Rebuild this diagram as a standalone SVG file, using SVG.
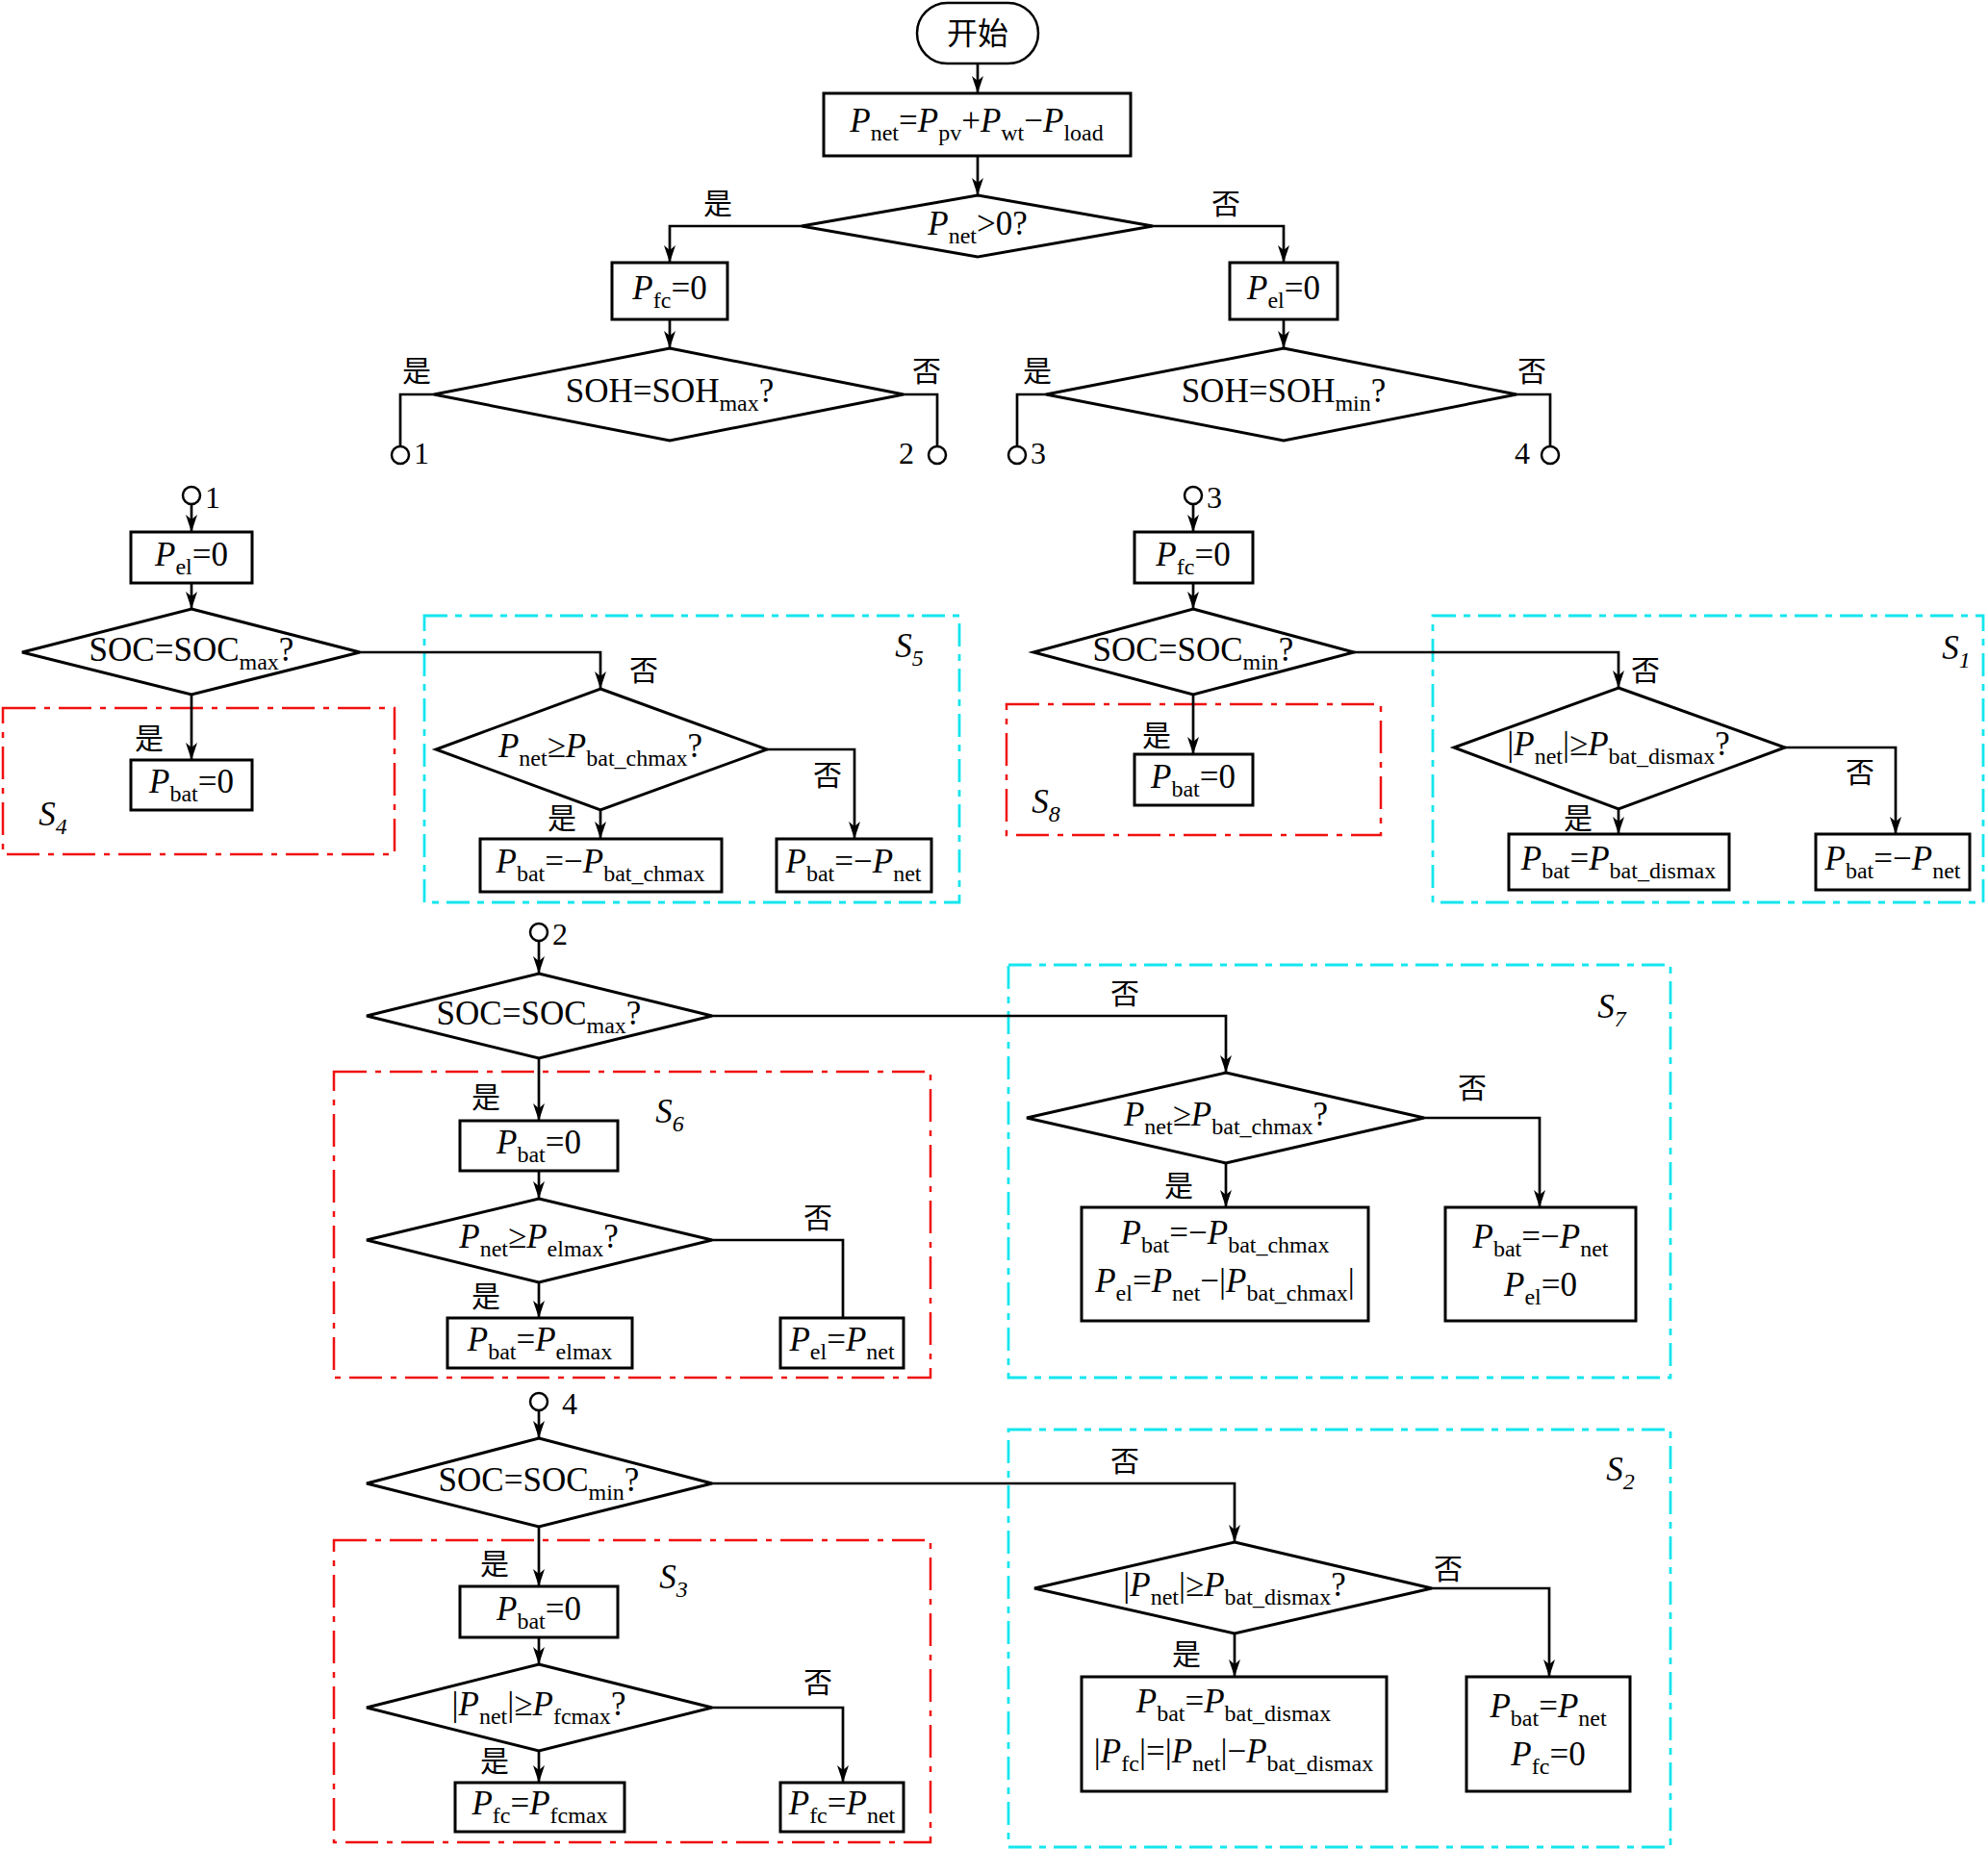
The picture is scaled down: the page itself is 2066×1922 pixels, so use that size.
<svg xmlns="http://www.w3.org/2000/svg" width="2066" height="1922" viewBox="0 0 2066 1922">
<defs>
<marker id="ah" markerUnits="userSpaceOnUse" markerWidth="18" markerHeight="12" viewBox="0 0 18 12" refX="18" refY="6" orient="auto">
<path d="M0,0 L18,6 L0,12 L5,6 z" fill="#000"/>
</marker>
<style>
.box{fill:#fff;stroke:#000;stroke-width:3}
.dia{fill:#fff;stroke:#000;stroke-width:3;stroke-linejoin:miter}
.ln{fill:none;stroke:#000;stroke-width:2.7}
.arr{marker-end:url(#ah)}
.cir{fill:#fff;stroke:#000;stroke-width:2.5}
.t{font-family:"Liberation Serif","Times New Roman",serif;font-size:35px;text-anchor:middle;fill:#000}
.tl{font-family:"Liberation Serif","Times New Roman",serif;font-size:32px;fill:#000}
.cn{font-family:"Noto Sans CJK SC","Noto Sans CJK JP",sans-serif;font-size:30px;text-anchor:middle;fill:#000}
.i{font-style:italic}
.s{font-size:24px;font-style:normal}
.si{font-size:24px;font-style:italic}
.red{fill:none;stroke:#f01010;stroke-width:2.5;stroke-dasharray:34 9 6 9}
.cyan{fill:none;stroke:#14e6ee;stroke-width:2.8;stroke-dasharray:24 8 7 8}
</style>
</defs>

<!-- group frames -->
<g id="frames">
<rect class="red" x="3" y="736" width="407" height="152"/>
<rect class="cyan" x="441" y="640" width="556" height="298"/>
<rect class="red" x="1046" y="732" width="389" height="136"/>
<rect class="cyan" x="1489" y="640" width="572" height="298"/>
<rect class="red" x="347" y="1114" width="620" height="318"/>
<rect class="cyan" x="1048" y="1003" width="688" height="429"/>
<rect class="red" x="347" y="1601" width="620" height="314"/>
<rect class="cyan" x="1048" y="1486" width="688" height="434"/>
<text class="t" x="55" y="858"><tspan class="i">S</tspan><tspan class="si" dy="9">4</tspan></text>
<text class="t" x="945" y="683"><tspan class="i">S</tspan><tspan class="si" dy="9">5</tspan></text>
<text class="t" x="1087" y="845"><tspan class="i">S</tspan><tspan class="si" dy="9">8</tspan></text>
<text class="t" x="2033" y="685"><tspan class="i">S</tspan><tspan class="si" dy="9">1</tspan></text>
<text class="t" x="696" y="1167"><tspan class="i">S</tspan><tspan class="si" dy="9">6</tspan></text>
<text class="t" x="1675" y="1058"><tspan class="i">S</tspan><tspan class="si" dy="9">7</tspan></text>
<text class="t" x="700" y="1651"><tspan class="i">S</tspan><tspan class="si" dy="9">3</tspan></text>
<text class="t" x="1684" y="1539"><tspan class="i">S</tspan><tspan class="si" dy="9">2</tspan></text>
</g>

<!-- connectors -->
<g id="connectors">
<path class="ln arr" d="M1016,66 V97"/>
<path class="ln arr" d="M1016,162 V203"/>
<path class="ln arr" d="M833,235 H696 V273"/>
<path class="ln arr" d="M1198,235 H1334 V273"/>
<path class="ln arr" d="M696,332 V362"/>
<path class="ln arr" d="M1334,332 V362"/>
<path class="ln" d="M451,410 H416 V464"/>
<path class="ln" d="M939,410 H974 V464"/>
<path class="ln" d="M1087,410 H1057 V464"/>
<path class="ln" d="M1576,410 H1611 V464"/>

<path class="ln arr" d="M199,524 V553"/>
<path class="ln arr" d="M199,606 V633"/>
<path class="ln arr" d="M199,722 V790"/>
<path class="ln arr" d="M374,678 H624 V716"/>
<path class="ln arr" d="M624,842 V872"/>
<path class="ln arr" d="M797,779 H888 V872"/>

<path class="ln arr" d="M1240,524 V553"/>
<path class="ln arr" d="M1240,606 V633"/>
<path class="ln arr" d="M1240,722 V784"/>
<path class="ln arr" d="M1407,678 H1682 V715"/>
<path class="ln arr" d="M1682,841 V867"/>
<path class="ln arr" d="M1855,777 H1970 V867"/>

<path class="ln arr" d="M560,978 V1012"/>
<path class="ln arr" d="M740,1056 H1274 V1115"/>
<path class="ln arr" d="M560,1100 V1165"/>
<path class="ln arr" d="M560,1217 V1246"/>
<path class="ln arr" d="M560,1333 V1370"/>
<path class="ln" d="M740,1289 H876 V1370"/>
<path class="ln arr" d="M1274,1209 V1255"/>
<path class="ln arr" d="M1480,1162 H1600 V1255"/>

<path class="ln arr" d="M560,1466 V1495"/>
<path class="ln arr" d="M740,1542 H1283 V1603"/>
<path class="ln arr" d="M560,1587 V1649"/>
<path class="ln arr" d="M560,1702 V1730"/>
<path class="ln arr" d="M560,1820 V1853"/>
<path class="ln arr" d="M740,1775 H876 V1853"/>
<path class="ln arr" d="M1283,1698 V1743"/>
<path class="ln arr" d="M1488,1651 H1610 V1743"/>

<text class="cn" x="746" y="222">是</text>
<text class="cn" x="1274" y="222">否</text>
<text class="cn" x="433" y="396">是</text>
<text class="cn" x="963" y="396">否</text>
<text class="cn" x="1078" y="396">是</text>
<text class="cn" x="1592" y="396">否</text>
<text class="cn" x="669" y="707">否</text>
<text class="cn" x="155" y="778">是</text>
<text class="cn" x="860" y="816">否</text>
<text class="cn" x="584" y="861">是</text>
<text class="cn" x="1710" y="707">否</text>
<text class="cn" x="1202" y="775">是</text>
<text class="cn" x="1933" y="813">否</text>
<text class="cn" x="1640" y="861">是</text>
<text class="cn" x="1169" y="1043">否</text>
<text class="cn" x="505" y="1151">是</text>
<text class="cn" x="1530" y="1141">否</text>
<text class="cn" x="1225" y="1243">是</text>
<text class="cn" x="850" y="1276">否</text>
<text class="cn" x="505" y="1358">是</text>
<text class="cn" x="1169" y="1529">否</text>
<text class="cn" x="514" y="1636">是</text>
<text class="cn" x="1505" y="1641">否</text>
<text class="cn" x="1233" y="1730">是</text>
<text class="cn" x="850" y="1759">否</text>
<text class="cn" x="514" y="1841">是</text>
</g>

<!-- connector points -->
<g id="cp1a"><circle class="cir" cx="416" cy="473" r="9"/><text class="tl" x="430" y="482">1</text></g>
<g id="cp2a"><circle class="cir" cx="974" cy="473" r="9"/><text class="tl" x="934" y="482">2</text></g>
<g id="cp3a"><circle class="cir" cx="1057" cy="473" r="9"/><text class="tl" x="1071" y="482">3</text></g>
<g id="cp4a"><circle class="cir" cx="1611" cy="473" r="9"/><text class="tl" x="1574" y="482">4</text></g>
<g id="cp1b"><circle class="cir" cx="199" cy="515" r="9"/><text class="tl" x="213" y="528">1</text></g>
<g id="cp3b"><circle class="cir" cx="1240" cy="515" r="9"/><text class="tl" x="1254" y="528">3</text></g>
<g id="cp2b"><circle class="cir" cx="560" cy="969" r="9"/><text class="tl" x="574" y="982">2</text></g>
<g id="cp4b"><circle class="cir" cx="560" cy="1457" r="9"/><text class="tl" x="584" y="1470">4</text></g>

<!-- top section -->
<g id="start">
<rect x="953" y="3" width="126" height="63" rx="31.5" fill="#fff" stroke="#000" stroke-width="2.5"/>
<text class="cn" x="1016" y="46" style="font-size:32px">开始</text>
</g>
<g id="pnet">
<rect class="box" x="856" y="97" width="319" height="65"/>
<text class="t" x="1015" y="137"><tspan class="i">P</tspan><tspan class="s" dy="9">net</tspan><tspan dy="-9">=</tspan><tspan class="i">P</tspan><tspan class="s" dy="9">pv</tspan><tspan dy="-9">+</tspan><tspan class="i">P</tspan><tspan class="s" dy="9">wt</tspan><tspan dy="-9">−</tspan><tspan class="i">P</tspan><tspan class="s" dy="9">load</tspan></text>
</g>
<g id="d_pnet">
<polygon class="dia" points="1016,203 1198,235 1016,267 833,235"/>
<text class="t" x="1016" y="244"><tspan class="i">P</tspan><tspan class="s" dy="9">net</tspan><tspan dy="-9">&gt;0?</tspan></text>
</g>
<g id="pfc0a">
<rect class="box" x="636" y="273" width="120" height="59"/>
<text class="t" x="696" y="311"><tspan class="i">P</tspan><tspan class="s" dy="9">fc</tspan><tspan dy="-9">=0</tspan></text>
</g>
<g id="pel0a">
<rect class="box" x="1278" y="273" width="112" height="59"/>
<text class="t" x="1334" y="311"><tspan class="i">P</tspan><tspan class="s" dy="9">el</tspan><tspan dy="-9">=0</tspan></text>
</g>
<g id="d_sohmax">
<polygon class="dia" points="696,362 939,410 696,458 451,410"/>
<text class="t" x="696" y="418">SOH=SOH<tspan class="s" dy="9">max</tspan><tspan dy="-9">?</tspan></text>
</g>
<g id="d_sohmin">
<polygon class="dia" points="1334,362 1576,410 1334,458 1087,410"/>
<text class="t" x="1334" y="418">SOH=SOH<tspan class="s" dy="9">min</tspan><tspan dy="-9">?</tspan></text>
</g>

<!-- section 1 -->
<g id="pel0b">
<rect class="box" x="136" y="553" width="126" height="53"/>
<text class="t" x="199" y="588"><tspan class="i">P</tspan><tspan class="s" dy="9">el</tspan><tspan dy="-9">=0</tspan></text>
</g>
<g id="d_socmax1">
<polygon class="dia" points="199,633 374,678 199,722 23,678"/>
<text class="t" x="199" y="687">SOC=SOC<tspan class="s" dy="9">max</tspan><tspan dy="-9">?</tspan></text>
</g>
<g id="pbat0a">
<rect class="box" x="136" y="790" width="126" height="52"/>
<text class="t" x="199" y="824"><tspan class="i">P</tspan><tspan class="s" dy="9">bat</tspan><tspan dy="-9">=0</tspan></text>
</g>
<g id="d_s5">
<polygon class="dia" points="624,716 797,779 624,842 453,779"/>
<text class="t" x="624" y="787"><tspan class="i">P</tspan><tspan class="s" dy="9">net</tspan><tspan dy="-9">≥</tspan><tspan class="i">P</tspan><tspan class="s" dy="9">bat_chmax</tspan><tspan dy="-9">?</tspan></text>
</g>
<g id="s5a">
<rect class="box" x="499" y="872" width="251" height="55"/>
<text class="t" x="624" y="907"><tspan class="i">P</tspan><tspan class="s" dy="9">bat</tspan><tspan dy="-9">=−</tspan><tspan class="i">P</tspan><tspan class="s" dy="9">bat_chmax</tspan></text>
</g>
<g id="s5b">
<rect class="box" x="807" y="872" width="161" height="55"/>
<text class="t" x="887" y="907"><tspan class="i">P</tspan><tspan class="s" dy="9">bat</tspan><tspan dy="-9">=−</tspan><tspan class="i">P</tspan><tspan class="s" dy="9">net</tspan></text>
</g>

<!-- section 3 (right upper) -->
<g id="pfc0b">
<rect class="box" x="1179" y="553" width="123" height="53"/>
<text class="t" x="1240" y="588"><tspan class="i">P</tspan><tspan class="s" dy="9">fc</tspan><tspan dy="-9">=0</tspan></text>
</g>
<g id="d_socmin1">
<polygon class="dia" points="1240,633 1407,678 1240,722 1074,678"/>
<text class="t" x="1240" y="687">SOC=SOC<tspan class="s" dy="9">min</tspan><tspan dy="-9">?</tspan></text>
</g>
<g id="pbat0b">
<rect class="box" x="1179" y="784" width="123" height="53"/>
<text class="t" x="1240" y="819"><tspan class="i">P</tspan><tspan class="s" dy="9">bat</tspan><tspan dy="-9">=0</tspan></text>
</g>
<g id="d_s1">
<polygon class="dia" points="1682,715 1855,777 1682,841 1511,777"/>
<text class="t" x="1682" y="785">|<tspan class="i">P</tspan><tspan class="s" dy="9">net</tspan><tspan dy="-9">|≥</tspan><tspan class="i">P</tspan><tspan class="s" dy="9">bat_dismax</tspan><tspan dy="-9">?</tspan></text>
</g>
<g id="s1a">
<rect class="box" x="1568" y="867" width="229" height="58"/>
<text class="t" x="1682" y="904"><tspan class="i">P</tspan><tspan class="s" dy="9">bat</tspan><tspan dy="-9">=</tspan><tspan class="i">P</tspan><tspan class="s" dy="9">bat_dismax</tspan></text>
</g>
<g id="s1b">
<rect class="box" x="1887" y="867" width="160" height="58"/>
<text class="t" x="1967" y="904"><tspan class="i">P</tspan><tspan class="s" dy="9">bat</tspan><tspan dy="-9">=−</tspan><tspan class="i">P</tspan><tspan class="s" dy="9">net</tspan></text>
</g>

<!-- section 2 -->
<g id="d_socmax2">
<polygon class="dia" points="560,1012 740,1056 560,1100 381,1056"/>
<text class="t" x="560" y="1065">SOC=SOC<tspan class="s" dy="9">max</tspan><tspan dy="-9">?</tspan></text>
</g>
<g id="pbat0c">
<rect class="box" x="478" y="1165" width="164" height="52"/>
<text class="t" x="560" y="1199"><tspan class="i">P</tspan><tspan class="s" dy="9">bat</tspan><tspan dy="-9">=0</tspan></text>
</g>
<g id="d_s6">
<polygon class="dia" points="560,1246 740,1289 560,1333 381,1289"/>
<text class="t" x="560" y="1297"><tspan class="i">P</tspan><tspan class="s" dy="9">net</tspan><tspan dy="-9">≥</tspan><tspan class="i">P</tspan><tspan class="s" dy="9">elmax</tspan><tspan dy="-9">?</tspan></text>
</g>
<g id="s6a">
<rect class="box" x="465" y="1370" width="192" height="52"/>
<text class="t" x="561" y="1404"><tspan class="i">P</tspan><tspan class="s" dy="9">bat</tspan><tspan dy="-9">=</tspan><tspan class="i">P</tspan><tspan class="s" dy="9">elmax</tspan></text>
</g>
<g id="s6b">
<rect class="box" x="811" y="1370" width="128" height="52"/>
<text class="t" x="875" y="1404"><tspan class="i">P</tspan><tspan class="s" dy="9">el</tspan><tspan dy="-9">=</tspan><tspan class="i">P</tspan><tspan class="s" dy="9">net</tspan></text>
</g>
<g id="d_s7">
<polygon class="dia" points="1274,1115 1480,1162 1274,1209 1067,1162"/>
<text class="t" x="1274" y="1170"><tspan class="i">P</tspan><tspan class="s" dy="9">net</tspan><tspan dy="-9">≥</tspan><tspan class="i">P</tspan><tspan class="s" dy="9">bat_chmax</tspan><tspan dy="-9">?</tspan></text>
</g>
<g id="s7a">
<rect class="box" x="1124" y="1255" width="298" height="118"/>
<text class="t" x="1273" y="1293"><tspan class="i">P</tspan><tspan class="s" dy="9">bat</tspan><tspan dy="-9">=−</tspan><tspan class="i">P</tspan><tspan class="s" dy="9">bat_chmax</tspan></text>
<text class="t" x="1273" y="1343"><tspan class="i">P</tspan><tspan class="s" dy="9">el</tspan><tspan dy="-9">=</tspan><tspan class="i">P</tspan><tspan class="s" dy="9">net</tspan><tspan dy="-9">−|</tspan><tspan class="i">P</tspan><tspan class="s" dy="9">bat_chmax</tspan><tspan dy="-9">|</tspan></text>
</g>
<g id="s7b">
<rect class="box" x="1502" y="1255" width="198" height="118"/>
<text class="t" x="1601" y="1297"><tspan class="i">P</tspan><tspan class="s" dy="9">bat</tspan><tspan dy="-9">=−</tspan><tspan class="i">P</tspan><tspan class="s" dy="9">net</tspan></text>
<text class="t" x="1601" y="1347"><tspan class="i">P</tspan><tspan class="s" dy="9">el</tspan><tspan dy="-9">=0</tspan></text>
</g>

<!-- section 4 -->
<g id="d_socmin2">
<polygon class="dia" points="560,1495 740,1542 560,1587 381,1542"/>
<text class="t" x="560" y="1550">SOC=SOC<tspan class="s" dy="9">min</tspan><tspan dy="-9">?</tspan></text>
</g>
<g id="pbat0d">
<rect class="box" x="478" y="1649" width="164" height="53"/>
<text class="t" x="560" y="1684"><tspan class="i">P</tspan><tspan class="s" dy="9">bat</tspan><tspan dy="-9">=0</tspan></text>
</g>
<g id="d_s3">
<polygon class="dia" points="560,1730 740,1775 560,1820 381,1775"/>
<text class="t" x="560" y="1783">|<tspan class="i">P</tspan><tspan class="s" dy="9">net</tspan><tspan dy="-9">|≥</tspan><tspan class="i">P</tspan><tspan class="s" dy="9">fcmax</tspan><tspan dy="-9">?</tspan></text>
</g>
<g id="s3a">
<rect class="box" x="473" y="1853" width="176" height="51"/>
<text class="t" x="561" y="1886"><tspan class="i">P</tspan><tspan class="s" dy="9">fc</tspan><tspan dy="-9">=</tspan><tspan class="i">P</tspan><tspan class="s" dy="9">fcmax</tspan></text>
</g>
<g id="s3b">
<rect class="box" x="811" y="1853" width="128" height="51"/>
<text class="t" x="875" y="1886"><tspan class="i">P</tspan><tspan class="s" dy="9">fc</tspan><tspan dy="-9">=</tspan><tspan class="i">P</tspan><tspan class="s" dy="9">net</tspan></text>
</g>
<g id="d_s2">
<polygon class="dia" points="1283,1603 1488,1651 1283,1698 1075,1651"/>
<text class="t" x="1283" y="1659">|<tspan class="i">P</tspan><tspan class="s" dy="9">net</tspan><tspan dy="-9">|≥</tspan><tspan class="i">P</tspan><tspan class="s" dy="9">bat_dismax</tspan><tspan dy="-9">?</tspan></text>
</g>
<g id="s2a">
<rect class="box" x="1124" y="1743" width="317" height="119"/>
<text class="t" x="1282" y="1780"><tspan class="i">P</tspan><tspan class="s" dy="9">bat</tspan><tspan dy="-9">=</tspan><tspan class="i">P</tspan><tspan class="s" dy="9">bat_dismax</tspan></text>
<text class="t" x="1282" y="1832">|<tspan class="i">P</tspan><tspan class="s" dy="9">fc</tspan><tspan dy="-9">|=|</tspan><tspan class="i">P</tspan><tspan class="s" dy="9">net</tspan><tspan dy="-9">|−</tspan><tspan class="i">P</tspan><tspan class="s" dy="9">bat_dismax</tspan></text>
</g>
<g id="s2b">
<rect class="box" x="1524" y="1743" width="170" height="119"/>
<text class="t" x="1609" y="1785"><tspan class="i">P</tspan><tspan class="s" dy="9">bat</tspan><tspan dy="-9">=</tspan><tspan class="i">P</tspan><tspan class="s" dy="9">net</tspan></text>
<text class="t" x="1609" y="1835"><tspan class="i">P</tspan><tspan class="s" dy="9">fc</tspan><tspan dy="-9">=0</tspan></text>
</g>
</svg>
